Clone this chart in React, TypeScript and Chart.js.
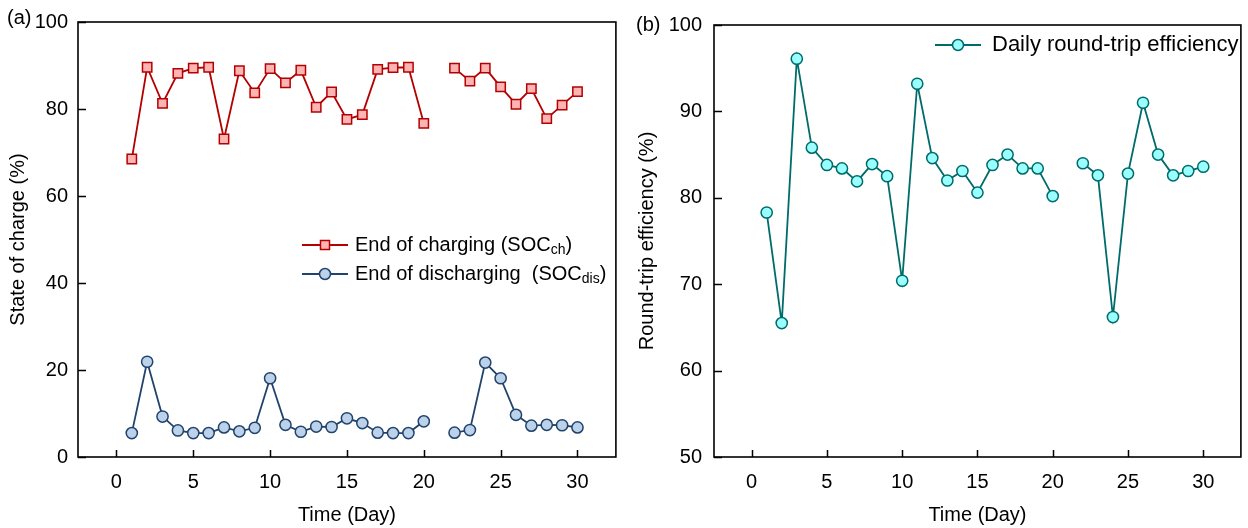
import React, { useEffect, useRef } from "react";
import { Chart, registerables } from "chart.js";

Chart.register(...registerables);

// ---------- data ----------
const days = [1, 2, 3, 4, 5, 6, 7, 8, 9, 10, 11, 12, 13, 14, 15, 16, 17, 18, 19, 20, 21, 22, 23, 24, 25, 26, 27, 28, 29, 30];
const socCharge = [68.5, 89.6, 81.3, 88.2, 89.4, 89.6, 73.1, 88.8, 83.7, 89.3, 86.0, 88.9, 80.4, 83.9, 77.6, 78.7, 89.1, 89.5, 89.6, 76.7, null, 89.4, 86.4, 89.4, 85.1, 81.1, 84.7, 77.8, 80.9, 84.0];
const socDischarge = [5.5, 21.9, 9.3, 6.1, 5.5, 5.5, 6.8, 5.9, 6.7, 18.1, 7.4, 5.8, 7.0, 6.9, 8.9, 7.8, 5.6, 5.5, 5.5, 8.2, null, 5.6, 6.2, 21.7, 18.1, 9.7, 7.2, 7.4, 7.3, 6.8];
const efficiency = [78.3, 65.5, 96.1, 85.8, 83.8, 83.4, 81.9, 83.9, 82.5, 70.4, 93.2, 84.6, 82.0, 83.1, 80.6, 83.8, 85.0, 83.4, 83.4, 80.2, null, 84.0, 82.6, 66.2, 82.8, 91.0, 85.0, 82.6, 83.1, 83.6];
const xTicks = [0, 5, 10, 15, 20, 25, 30];
const socTicks = [0, 20, 40, 60, 80, 100];
const effTicks = [50, 60, 70, 80, 90, 100];

const FONT = '"Liberation Sans", Arial, Helvetica, sans-serif';
const TICK_SIZE = 20;
const TITLE_SIZE = 20;

const C_CH = "#B40000";
const F_CH = "#FFB4B4";
const C_DIS = "#22436B";
const F_DIS = "#BCD2EA";
const C_EFF = "#006B6B";
const F_EFF = "#99FFFF";

const toPoints = (vals: (number | null)[]) => days.map((d, i) => ({ x: d, y: vals[i] }));

type Part = { text: string; sub?: boolean };
type LegendItem = { x: number; y: number; color: string; fill: string; style: string; size: number; gap: number; parts: Part[] };

function drawRich(ctx: CanvasRenderingContext2D, x: number, y: number, size: number, parts: Part[]) {
  let cx = x;
  ctx.textAlign = "left";
  ctx.textBaseline = "middle";
  ctx.fillStyle = "#000";
  for (const p of parts) {
    if (p.sub) {
      ctx.font = `${Math.round(size * 0.68)}px ${FONT}`;
      ctx.fillText(p.text, cx, y + 5);
    } else {
      ctx.font = `${size}px ${FONT}`;
      ctx.fillText(p.text, cx, y);
    }
    cx += ctx.measureText(p.text).width;
  }
}

const framePlugin = {
  id: "frame",
  afterDraw(chart: any, _args: any, opts: any) {
    const { ctx, chartArea: a, scales } = chart;
    ctx.save();
    // inward ticks
    ctx.strokeStyle = "#000";
    ctx.lineWidth = 1.5;
    ctx.beginPath();
    scales.x.ticks.forEach((t: any) => {
      const px = Math.round(scales.x.getPixelForValue(t.value)) + 0.5;
      ctx.moveTo(px, a.bottom);
      ctx.lineTo(px, a.bottom - 7);
    });
    scales.y.ticks.forEach((t: any) => {
      const py = Math.round(scales.y.getPixelForValue(t.value)) + 0.5;
      ctx.moveTo(a.left, py);
      ctx.lineTo(a.left + 8, py);
    });
    ctx.stroke();
    // frame
    ctx.lineWidth = 1.6;
    ctx.strokeRect(a.left, a.top, a.right - a.left, a.bottom - a.top);

    // axis titles
    ctx.fillStyle = "#000";
    ctx.font = `${TITLE_SIZE}px ${FONT}`;
    ctx.textAlign = "center";
    ctx.textBaseline = "middle";
    ctx.fillText(opts.xTitle, (a.left + a.right) / 2, opts.xTitleY);
    ctx.save();
    ctx.translate(opts.yTitleX, (a.top + a.bottom) / 2);
    ctx.rotate(-Math.PI / 2);
    ctx.fillText(opts.yTitle, 0, 0);
    ctx.restore();

    // panel label
    ctx.font = `${TICK_SIZE}px ${FONT}`;
    ctx.textAlign = "left";
    ctx.fillText(opts.panel, opts.panelX, opts.panelY);

    // legend
    (opts.legend as LegendItem[]).forEach((it) => {
      ctx.strokeStyle = it.color;
      ctx.lineWidth = 1.8;
      ctx.beginPath();
      ctx.moveTo(it.x, it.y);
      ctx.lineTo(it.x + 46, it.y);
      ctx.stroke();
      ctx.fillStyle = it.fill;
      ctx.lineWidth = 1.5;
      const mx = it.x + 23;
      ctx.beginPath();
      if (it.style === "rect") {
        ctx.rect(mx - 4.5, it.y - 4.5, 9, 9);
      } else {
        ctx.arc(mx, it.y, 5.5, 0, Math.PI * 2);
      }
      ctx.fill();
      ctx.stroke();
      drawRich(ctx, it.x + it.gap, it.y, it.size, it.parts);
    });
    ctx.restore();
  },
};

function makeConfig(opts: {
  datasets: any[];
  yTicks: number[];
  yMin: number;
  yMax: number;
  yWidth: number;
  yPad: number;
  padRight: number;
  padTop: number;
  frame: any;
}): any {
  return {
    type: "line",
    data: { datasets: opts.datasets },
    plugins: [framePlugin],
    options: {
      animation: false,
      responsive: false,
      maintainAspectRatio: false,
      layout: { padding: { left: 0, right: opts.padRight, top: opts.padTop, bottom: 0 } },
      plugins: {
        legend: { display: false },
        tooltip: { enabled: false },
        frame: opts.frame,
      },
      scales: {
        x: {
          type: "linear",
          min: -2.5,
          max: 32.5,
          grid: { display: false, drawTicks: false },
          border: { display: false },
          afterBuildTicks: (s: any) => {
            s.ticks = xTicks.map((v) => ({ value: v }));
          },
          afterFit: (s: any) => {
            s.height = 71;
          },
          ticks: {
            autoSkip: false,
            maxRotation: 0,
            padding: 13,
            color: "#000",
            font: { family: FONT, size: TICK_SIZE },
          },
        },
        y: {
          type: "linear",
          min: opts.yMin,
          max: opts.yMax,
          grid: { display: false, drawTicks: false },
          border: { display: false },
          afterBuildTicks: (s: any) => {
            s.ticks = opts.yTicks.map((v) => ({ value: v }));
          },
          afterFit: (s: any) => {
            s.width = opts.yWidth;
          },
          ticks: {
            autoSkip: false,
            padding: opts.yPad,
            color: "#000",
            font: { family: FONT, size: TICK_SIZE },
          },
        },
      },
    },
  };
}

function lineDs(label: string, vals: (number | null)[], color: string, fill: string, style: string) {
  return {
    label,
    data: toPoints(vals),
    borderColor: color,
    backgroundColor: fill,
    borderWidth: 1.8,
    pointStyle: style,
    pointRadius: style === "rect" ? 6.6 : 5.6,
    pointBorderWidth: 1.5,
    pointBorderColor: color,
    pointBackgroundColor: fill,
    spanGaps: false,
    tension: 0,
  };
}

function ChartBox({ left, makeCfg }: { left: number; makeCfg: () => any }) {
  const ref = useRef<HTMLCanvasElement>(null);
  useEffect(() => {
    const chart = new Chart(ref.current as HTMLCanvasElement, makeCfg());
    return () => chart.destroy();
  }, []);
  return (
    <div style={{ position: "absolute", left, top: 0, width: 624, height: 528 }}>
      <canvas ref={ref} width={624} height={528} style={{ width: 624, height: 528, display: "block" }} />
    </div>
  );
}

export default function App() {
  const leftCfg = () =>
    makeConfig({
      datasets: [
        lineDs("End of charging (SOCch)", socCharge, C_CH, F_CH, "rect"),
        lineDs("End of discharging (SOCdis)", socDischarge, C_DIS, F_DIS, "circle"),
      ],
      yTicks: socTicks,
      yMin: 0,
      yMax: 100,
      yWidth: 78,
      yPad: 10,
      padRight: 7,
      padTop: 18,
      frame: {
        xTitle: "Time (Day)",
        xTitleY: 515,
        yTitle: "State of charge (%)",
        yTitleX: 18,
        panel: "(a)",
        panelX: 7,
        panelY: 18,
        legend: [
          {
            x: 302,
            y: 245,
            color: C_CH,
            fill: F_CH,
            style: "rect",
            size: 20,
            gap: 53,
            parts: [{ text: "End of charging (SOC" }, { text: "ch", sub: true }, { text: ")" }],
          },
          {
            x: 302,
            y: 274,
            color: C_DIS,
            fill: F_DIS,
            style: "circle",
            size: 20,
            gap: 53,
            parts: [{ text: "End of discharging  (SOC" }, { text: "dis", sub: true }, { text: ")" }],
          },
        ],
      },
    });
  const rightCfg = () =>
    makeConfig({
      datasets: [lineDs("Daily round-trip efficiency", efficiency, C_EFF, F_EFF, "circle")],
      yTicks: effTicks,
      yMin: 50,
      yMax: 100,
      yWidth: 90,
      yPad: 12,
      padRight: 1,
      padTop: 25,
      frame: {
        xTitle: "Time (Day)",
        xTitleY: 515,
        yTitle: "Round-trip efficiency (%)",
        yTitleX: 23,
        panel: "(b)",
        panelX: 12,
        panelY: 25,
        legend: [
          {
            x: 311,
            y: 45,
            color: C_EFF,
            fill: F_EFF,
            style: "circle",
            size: 22,
            gap: 57,
            parts: [{ text: "Daily round-trip efficiency" }],
          },
        ],
      },
    });
  return (
    <div style={{ position: "fixed", left: 0, top: 0, width: 1248, height: 528, background: "#fff", overflow: "hidden" }}>
      <ChartBox left={0} makeCfg={leftCfg} />
      <ChartBox left={624} makeCfg={rightCfg} />
    </div>
  );
}
